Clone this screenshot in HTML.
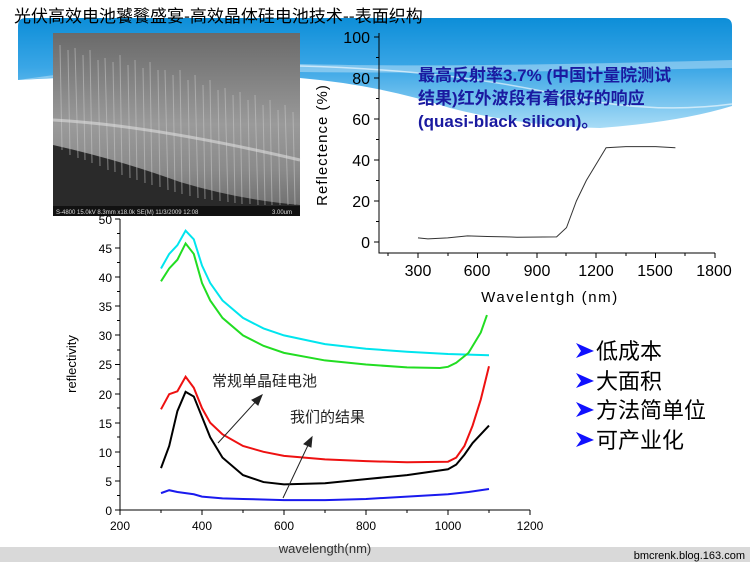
<!DOCTYPE html>
<html><head><meta charset="utf-8"><style>
body{margin:0;width:750px;height:562px;overflow:hidden;background:#fff;font-family:"Liberation Sans","Noto Sans CJK SC",sans-serif;position:relative}
.abs{position:absolute}
</style></head><body>
<svg class="abs" style="left:0;top:0" width="750" height="562" viewBox="0 0 750 562">
<defs>
<linearGradient id="bl" x1="0" y1="0" x2="0" y2="1"><stop offset="0" stop-color="#0d8ed8"/><stop offset="0.45" stop-color="#3aa6e6"/><stop offset="1" stop-color="#a8dcf6"/></linearGradient>
<linearGradient id="sem" x1="0" y1="0" x2="0" y2="1"><stop offset="0" stop-color="#6a6a6a"/><stop offset="0.5" stop-color="#9a9a9a"/><stop offset="0.75" stop-color="#8a8a8a"/><stop offset="1" stop-color="#6a6a6a"/></linearGradient>
</defs>
<!-- footer -->
<rect x="0" y="547" width="750" height="15" fill="#d9d9d9"/>
<text x="745" y="559" font-size="11" text-anchor="end" fill="#000">bmcrenk.blog.163.com</text>
<!-- banner -->
<path d="M18 26 Q18 18 26 18 L724 18 Q732 18 732 26 L732 106 Q680 122 600 128 Q520 126 450 108 Q380 85 300 78 Q150 72 18 80 Z" fill="url(#bl)"/>
<path d="M18 80 Q150 60 300 64 Q450 68 732 60 L732 68 Q450 74 300 72 Q150 70 18 80 Z" fill="#fff" opacity="0.35"/>
<path d="M300 66 Q450 70 560 95 Q650 115 732 104" stroke="#fff" stroke-width="1.5" fill="none" opacity="0.6"/>
<!-- SEM image -->
<rect x="53" y="33" width="247" height="183" fill="url(#sem)"/>
<path d="M53 145 Q120 160 180 182 Q240 200 300 205 L300 216 L53 216 Z" fill="#2a2a2a"/>
<g stroke="#c8c8c8" stroke-width="1" opacity="0.55">
<path d="M60 45 L62 150 M68 50 L70 155 M75 48 L78 158 M83 55 L85 160 M90 50 L92 163 M98 60 L100 166 M105 58 L108 170 M113 62 L115 172 M120 55 L122 175 M128 65 L130 178 M135 60 L137 180 M143 68 L145 183 M150 62 L152 185 M158 70 L160 187 M165 70 L168 190 M173 75 L175 192 M180 70 L182 194 M188 80 L190 196 M195 75 L198 198 M203 85 L205 199 M210 80 L212 200 M218 90 L220 201 M225 88 L228 202 M233 95 L235 203 M240 92 L242 204 M248 100 L250 204 M255 95 L258 205 M263 105 L265 205 M270 100 L272 205 M278 110 L280 205 M285 105 L288 205 M293 112 L295 205"/>
</g>
<path d="M53 120 Q150 125 300 160" stroke="#ddd" stroke-width="3" fill="none" opacity="0.6"/>
<rect x="53" y="206" width="247" height="10" fill="#111"/>
<text x="56" y="214" font-size="6" fill="#ddd">S-4800 15.0kV 8.3mm x18.0k SE(M) 11/3/2009 12:08</text>
<text x="272" y="214" font-size="6" fill="#ddd">3.00um</text>

<!-- top chart axes -->
<g stroke="#000" stroke-width="1" fill="none">
<path d="M379 33 L379 253 L715 253"/>
<path d="M379 37 h-5 M379 78 h-5 M379 119 h-5 M379 160 h-5 M379 201 h-5 M379 242 h-5"/>
<path d="M379 57.5 h-3 M379 98.5 h-3 M379 139.5 h-3 M379 180.5 h-3 M379 221.5 h-3"/>
<path d="M418 253 v5 M477.5 253 v5 M537 253 v5 M596 253 v5 M655.5 253 v5 M715 253 v5"/>
<path d="M388 253 v3 M448 253 v3 M507 253 v3 M566 253 v3 M626 253 v3 M685 253 v3"/>
</g>
<g font-size="16" fill="#000" text-anchor="end">
<text x="370" y="43">100</text><text x="370" y="84">80</text><text x="370" y="125">60</text><text x="370" y="166">40</text><text x="370" y="207">20</text><text x="370" y="248">0</text>
</g>
<g font-size="16" fill="#000" text-anchor="middle">
<text x="418" y="276">300</text><text x="477" y="276">600</text><text x="537" y="276">900</text><text x="596" y="276">1200</text><text x="655" y="276">1500</text><text x="714" y="276">1800</text>
</g>
<text x="550" y="302" font-size="15" text-anchor="middle" letter-spacing="1.6" fill="#000">Wavelentgh (nm)</text>
<text transform="translate(327,145) rotate(-90)" font-size="15" text-anchor="middle" letter-spacing="1">Reflectence (%)</text>
<g transform="translate(358.6,242) scale(0.198,-2.05)">
<polyline vector-effect="non-scaling-stroke" fill="none" stroke="#333" stroke-width="1" points="300,2 350,1.5 450,2 550,3 650,2.7 750,2.5 800,2.3 1000,2.5 1050,7 1100,20 1150,30 1200,38 1250,46 1350,46.5 1500,46.5 1600,46"/>
</g>
<g font-size="17" fill="#1a1aa0" font-weight="bold">
<text x="418" y="81">最高反射率3.7% (中国计量院测试</text>
<text x="418" y="104">结果)红外波段有着很好的响应</text>
<text x="418" y="127">(quasi-black silicon)。</text>
</g>

<!-- bottom chart -->
<g stroke="#000" stroke-width="1" fill="none">
<path d="M120 219 L120 510 L530 510"/>
<path d="M120 219 h-5 M120 248 h-5 M120 277 h-5 M120 306 h-5 M120 335 h-5 M120 364.5 h-5 M120 394 h-5 M120 423 h-5 M120 452 h-5 M120 481 h-5 M120 510 h-5"/>
<path d="M120 233.5 h-3 M120 262.5 h-3 M120 291.5 h-3 M120 320.5 h-3 M120 350 h-3 M120 379 h-3 M120 408 h-3 M120 437 h-3 M120 466.5 h-3 M120 495.5 h-3"/>
<path d="M120 510 v5 M202 510 v5 M284 510 v5 M366 510 v5 M448 510 v5 M530 510 v5"/>
<path d="M161 510 v3 M243 510 v3 M325 510 v3 M407 510 v3 M489 510 v3"/>
</g>
<g font-size="12" fill="#000" text-anchor="end">
<text x="112" y="224">50</text><text x="112" y="253">45</text><text x="112" y="282">40</text><text x="112" y="311">35</text><text x="112" y="340">30</text><text x="112" y="369">25</text><text x="112" y="399">20</text><text x="112" y="428">15</text><text x="112" y="457">10</text><text x="112" y="486">5</text><text x="112" y="515">0</text>
</g>
<g font-size="12" fill="#000" text-anchor="middle">
<text x="120" y="530">200</text><text x="202" y="530">400</text><text x="284" y="530">600</text><text x="366" y="530">800</text><text x="448" y="530">1000</text><text x="530" y="530">1200</text>
</g>
<text x="325" y="553" font-size="13" text-anchor="middle" fill="#333">wavelength(nm)</text>
<text transform="translate(76,364) rotate(-90)" font-size="13" text-anchor="middle">reflectivity</text>
<g transform="translate(38,510) scale(0.41,-5.82)" fill="none" stroke-width="2">
<polyline vector-effect="non-scaling-stroke" stroke="#00e5ee" points="300,41.5 320,44 340,45.5 360,48 380,46.5 400,42 420,39 450,36 500,33 550,31.2 600,30 700,28.5 800,27.7 900,27.2 1000,26.8 1100,26.6"/>
<polyline vector-effect="non-scaling-stroke" stroke="#22dd22" points="300,39.3 320,41.5 340,43 360,45.8 380,44 400,39 420,36 450,33 500,30 550,28.2 600,27 700,25.7 800,25 900,24.5 980,24.4 1000,24.6 1020,25.3 1050,27 1080,30.5 1095,33.5"/>
<polyline vector-effect="non-scaling-stroke" stroke="#ee1111" points="300,17.3 320,19.9 340,20.4 360,22.9 380,21 400,17.5 420,15 450,13 500,11 550,10 600,9.3 700,8.7 800,8.4 900,8.2 1000,8.3 1020,9 1040,11 1060,14.5 1080,19 1100,24.7"/>
<polyline vector-effect="non-scaling-stroke" stroke="#000" points="300,7.2 320,11 340,17 360,20.3 380,19.5 400,16 420,12.5 450,9 500,6 550,4.8 600,4.4 700,4.6 800,5.3 900,6 1000,7 1020,7.8 1040,9.5 1060,11.5 1100,14.5"/>
<polyline vector-effect="non-scaling-stroke" stroke="#1a1aee" points="300,2.9 320,3.4 340,3.1 380,2.7 400,2.3 450,2 500,1.9 600,1.7 700,1.7 800,1.9 900,2.3 1000,2.7 1050,3.1 1100,3.6"/>
</g>
<g stroke="#222" stroke-width="1" fill="#222">
<line x1="218" y1="443" x2="259" y2="398"/><polygon points="262,395 252,400 258,405"/>
<line x1="283" y1="498" x2="310" y2="441"/><polygon points="312,437 304,444 311,447"/>
</g>
<text x="212" y="386" font-size="15" fill="#222">常规单晶硅电池</text>
<text x="290" y="422" font-size="15" fill="#222">我们的结果</text>

<!-- bullets -->
<g font-size="22" fill="#000">
<text x="596" y="359">低成本</text><text x="596" y="389">大面积</text><text x="596" y="418">方法简单位</text><text x="596" y="448">可产业化</text>
</g>
<g fill="#1010ff">
<polygon points="576,343 594,351 576,358 581,351"/><polygon points="576,373 594,381 576,388 581,381"/><polygon points="576,402 594,410 576,417 581,410"/><polygon points="576,432 594,440 576,447 581,440"/>
</g>
<!-- title -->
<text x="14" y="22" font-size="17" fill="#000" font-family="'Noto Sans CJK SC','Liberation Sans',sans-serif">光伏高效电池饕餮盛宴-高效晶体硅电池技术--表面织构</text>
</svg>
</body></html>
